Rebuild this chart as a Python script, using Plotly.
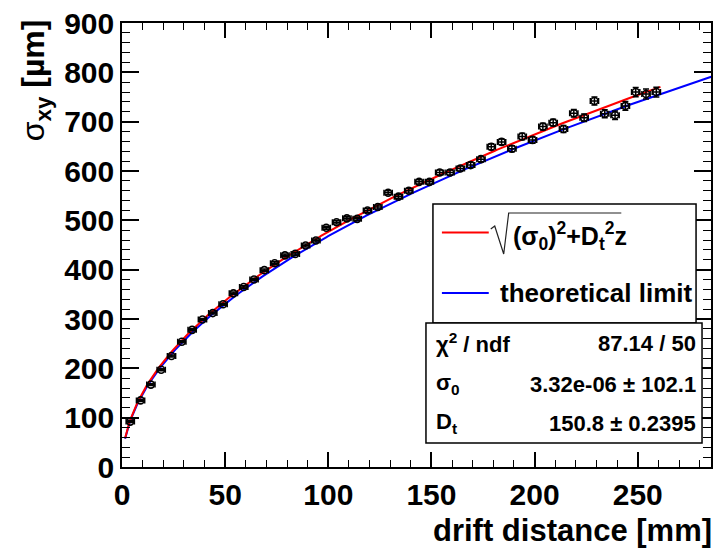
import numpy as np
import plotly.graph_objects as go

# ---------------- data ----------------
drift_mm = [4, 9, 14, 19, 24, 29, 34, 39, 44, 49, 54, 59, 64, 69, 74, 79, 84, 89, 94, 99,
            104, 109, 114, 119, 124, 129, 134, 139, 144, 149, 154, 159, 164, 169, 174, 179,
            184, 189, 194, 199, 204, 209, 214, 219, 224, 229, 234, 239, 244, 249, 254, 259]
sigma_xy = [92, 135, 167, 197, 225, 254, 278, 299, 312, 330, 352, 365, 380, 399, 413, 429,
            432, 449, 459, 485, 496, 504, 503, 520, 527, 556, 548, 560, 578, 578, 597, 597,
            605, 612, 624, 649, 659, 645, 670, 663, 690, 698, 685, 717, 708, 742, 716, 713,
            732, 760, 756, 760]
sigma_err = [2, 2, 2, 2, 2, 2, 2, 2, 2, 2, 2.5, 2.5, 2.5, 2.5, 3, 3, 3, 3, 3, 3,
             3.5, 3.5, 3.5, 4, 4, 4, 4, 4.5, 4.5, 4.5, 5, 5, 5, 5.5, 5.5, 6, 6, 6, 6.5, 6.5,
             7, 7, 7, 7.5, 7.5, 8, 8, 8.5, 9, 9.5, 10, 10]
drift_err = [2.0] * len(drift_mm)

# fit results (stats box) and theoretical diffusion
fit_sigma0 = 3.32e-06
fit_sigma0_err = 102.1
fit_Dt = 150.8
fit_Dt_err = 0.2395
fit_chi2 = 87.14
fit_ndf = 50
fit_range_mm = [1.5, 261.0]
theory_Dt = 148.0
theory_range_mm = [1.5, 286.0]

x_ticks = [0, 50, 100, 150, 200, 250]
y_ticks = [0, 100, 200, 300, 400, 500, 600, 700, 800, 900]

# fit functions: sigma = sqrt(sigma0^2 + Dt^2 * z), z in cm
z_fit = np.linspace(fit_range_mm[0], fit_range_mm[1], 400)
s_fit = np.sqrt(fit_sigma0 ** 2 + fit_Dt ** 2 * z_fit / 10.0)
z_th = np.linspace(theory_range_mm[0], theory_range_mm[1], 400)
s_th = np.sqrt(theory_Dt ** 2 * z_th / 10.0)

# ---------------- layout helpers (pixel -> paper) ----------------
W, H = 717, 551
L, R, T, B = 122, 713, 23, 467


def px(x):
    return (x - L) / (R - L)


def py(y):
    return (B - y) / (B - T)


FONT = "Liberation Sans"

fig = go.Figure()
fig.add_trace(go.Scatter(x=z_th, y=s_th, mode="lines",
                         line=dict(color="#0000ff", width=2), showlegend=False))
fig.add_trace(go.Scatter(x=z_fit, y=s_fit, mode="lines",
                         line=dict(color="#ff0000", width=2), showlegend=False))
fig.add_trace(go.Scatter(
    x=drift_mm, y=sigma_xy, mode="markers",
    marker=dict(symbol="circle-open", size=7, color="black", line=dict(width=1.6, color="black")),
    error_y=dict(type="data", array=sigma_err, color="black", thickness=1.5, width=3),
    error_x=dict(type="data", array=drift_err, color="black", thickness=1.5, width=3),
    showlegend=False))

axis_common = dict(
    showline=True, linecolor="black", linewidth=1.5, mirror="ticks",
    ticks="inside", tickwidth=1.5, tickcolor="black",
    showgrid=False, zeroline=False,
    tickfont=dict(family=FONT, size=30, color="black", weight="bold"),
)
fig.update_xaxes(**axis_common, range=[0, 285.5], tickvals=x_ticks, ticklen=15,
                 minor=dict(dtick=10, ticklen=7, ticks="inside", tickwidth=1.2, tickcolor="black"))
fig.update_yaxes(**axis_common, range=[0, 900], tickvals=y_ticks, ticklen=17,
                 minor=dict(dtick=20, ticklen=8, ticks="inside", tickwidth=1.2, tickcolor="black"))

shapes = []
# legend box
shapes.append(dict(type="rect", xref="paper", yref="paper", x0=px(434), x1=px(698), y0=py(323), y1=py(204),
                   line=dict(color="black", width=1.5), fillcolor="white", layer="above"))
# stats box
shapes.append(dict(type="rect", xref="paper", yref="paper", x0=px(427), x1=px(704), y0=py(443), y1=py(323),
                   line=dict(color="black", width=1.5), fillcolor="white", layer="above"))
# legend line samples
shapes.append(dict(type="line", xref="paper", yref="paper", x0=px(443), x1=px(490), y0=py(232.5), y1=py(232.5),
                   line=dict(color="#ff0000", width=2), layer="above"))
shapes.append(dict(type="line", xref="paper", yref="paper", x0=px(443), x1=px(490), y0=py(293), y1=py(293),
                   line=dict(color="#0000ff", width=2), layer="above"))
# radical sign
pts = [(492, 229), (496, 226), (505, 254), (510, 213), (623, 213)]
path = "M " + " L ".join(f"{px(a)},{py(b)}" for a, b in pts)
shapes.append(dict(type="path", xref="paper", yref="paper", path=path,
                   line=dict(color="#222222", width=1.2), layer="above"))

ann = []


def text(x, y, s, size, xanchor="left", weight="bold", angle=0):
    ann.append(dict(x=px(x), y=py(y), xref="paper", yref="paper", text=s, showarrow=False,
                    xanchor=xanchor, yanchor="middle", textangle=angle,
                    font=dict(family=FONT, size=size, color="black", weight=weight)))


text(512, 236, "(σ<sub>0</sub>)<sup>2</sup>+D<sub>t</sub><sup>2</sup>z", 25)
text(499, 293, "theoretical limit", 26)
text(435, 343, "χ<sup>2</sup> / ndf", 22)
text(700, 343, f"{fit_chi2:.2f} / {fit_ndf}", 22, xanchor="right")
text(435, 384, "σ<sub>0</sub>", 22)
text(700, 384, f"{fit_sigma0:.2e} ± {fit_sigma0_err}", 22, xanchor="right")
text(435, 423, "D<sub>t</sub>", 22)
text(700, 423, f"{fit_Dt} ± {fit_Dt_err}", 22, xanchor="right")
# axis titles
text(716, 530, "drift distance [mm]", 31, xanchor="right")
ann.append(dict(x=px(35), y=py(80), xref="paper", yref="paper",
                text="σ<sub><b>xy</b></sub><b> [µm]</b>", showarrow=False,
                xanchor="center", yanchor="middle", textangle=-90,
                font=dict(family=FONT, size=32, color="black")))

fig.update_layout(
    width=W, height=H,
    margin=dict(l=L, r=W - R, t=T, b=H - B, pad=0),
    paper_bgcolor="white", plot_bgcolor="white",
    shapes=shapes, annotations=ann, showlegend=False,
)

fig.write_html("out.html")
